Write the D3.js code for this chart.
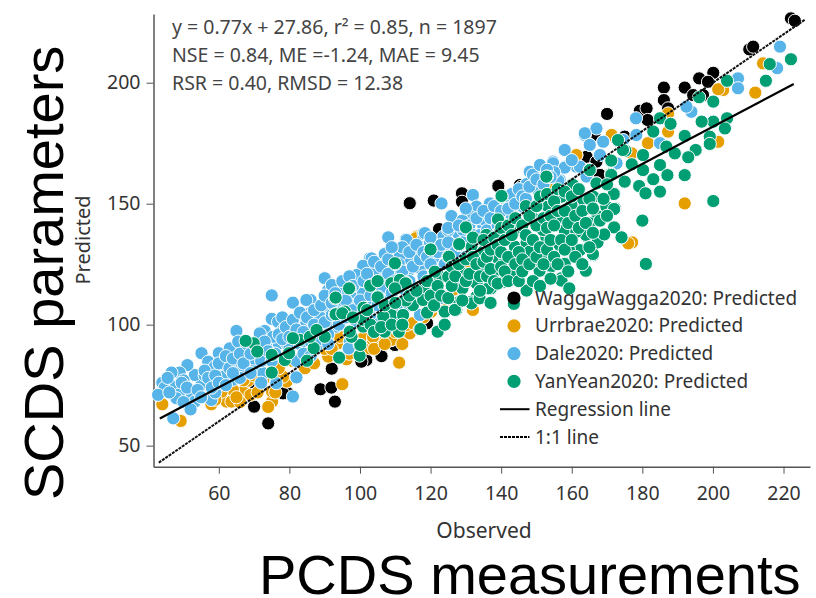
<!DOCTYPE html>
<html>
<head>
<meta charset="utf-8">
<script src="https://cdn.jsdelivr.net/npm/d3@7"></script>
<style>
  html, body { margin: 0; padding: 0; background: #fff; }
  svg { display: block; }
</style>
</head>
<body>
<div id="chart"></div>
<script>
// values as [observed, predicted]
const wagga = [[74,59.2],[70,66.1],[92.9,68.2],[88.8,73.3],[91.9,74],[92,81.8],[106.1,87],[101.8,85.4],[100.4,84.7],[79.6,71.6],[78.2,71.6],[70.5,74.4],[72,74.4],[109.9,91.6],[118.8,100.3],[83.1,104.7],[122.4,139.1],[114.1,150.2],[120.9,151.3],[128.9,154.3],[128.9,150.8],[139.1,157.3],[143.2,151.2],[122.4,139.5],[119,100.6],[145.3,157.7],[170,187.1],[179.3,188.4],[181.2,189.4],[181.5,184.6],[186.1,198],[186.1,192.8],[192,198],[196.1,201.8],[200.1,204.1],[198.6,200.4],[197.2,194.9],[194.4,194.9],[210.3,213.8],[211.4,214.9],[222.1,226.6],[223.2,225.6],[139.2,157.3],[143.4,151.5],[145.8,157],[164.2,169.4],[167,167.4],[168,161.9],[166.5,177.7],[175,177.7],[152.8,157.7],[187.3,189.4]]

const urrbrae = [[44,67.1],[49.2,60.2],[57.9,67.1],[62.2,68.2],[66.9,72.3],[68.3,76.9],[64,73],[60.8,72.3],[63.6,68.2],[55.1,79.9],[72.6,77.2],[75.1,68.2],[75.1,72.3],[79.2,76.5],[78.2,78.5],[84.4,82],[95,75.4],[111.1,84.3],[91,86.8],[96.2,85.7],[93.8,92.3],[102.8,90.2],[100.9,94.4],[103.7,93.7],[106.1,93.7],[108.9,93.7],[111.3,94.4],[114.1,96.4],[113.2,99.9],[115,100.6],[120.2,105.4],[121.2,108.2],[132,106.1],[116,136.4],[129.7,125.4],[94.3,95],[212,195.9],[202.9,197],[201.5,197.3],[214.2,208],[192,150.1],[177.1,134],[201.5,175.6],[187.3,179.8],[187.3,187.3],[181.6,175],[177,170.8],[171.3,178.4],[161.3,170.1],[148.1,146.7],[145.3,153.6],[155.2,156.3],[137.7,146],[120.7,107.5],[115.8,135.7],[161.3,170.1],[138.2,146],[176,133.6],[108.9,93.7],[103.7,95],
  [59,69],[61,76],[66,68],[67,77],[69,71],[71,72],[73,80],[74,66],[76,72],[77,82],[81,85],[83,86],[87,84],[90,90],[92,90],[97,88],[99,92],[104,90],[107,92],[110,97],[118,103],[124,110],[126,112],[112,92],[65,70],[70,79]]

const dale = [[108,136],[113,135.3],[118,137.8],[117.9,135],[117.4,132.2],[75,112.1],[81,109.1],[86,110.2],[84.8,110.2],[85.8,104.7],[90,119.2],[91,114.3],[92,116.4],[100.9,124],[102.8,127.4],[99,120.5],[107,129.5],[110.8,129.5],[113.2,128.1],[115,126.7],[117,123.3],[116,129.5],[107,119.2],[110.3,124],[65,97.4],[73,97.4],[75,102.4],[76.8,101.2],[80,100.3],[78.2,97.8],[84.8,100.6],[91,106.1],[97.1,110.2],[99,113],[102.8,103.3],[105.6,100.6],[55.1,88.2],[60,88.2],[63.1,90.2],[65.5,93],[57,84.7],[58.9,82.7],[61.7,81.3],[65,84],[68.1,86.5],[66.9,81.3],[71.6,93.7],[73.5,90.9],[77,92.3],[75.4,95],[82,95],[84.4,95],[89.1,97.8],[93.3,99.2],[97.1,93],[96.8,90.2],[82,78.2],[76.3,75.8],[81,70.3],[63.9,77.2],[61.2,78.5],[58.9,75.8],[55.1,75.5],[53.2,79.2],[51.1,83.3],[48.9,80.2],[46.6,80.2],[44,76],[44.7,74],[47.8,74.4],[42.8,71],[48.9,71.2],[52.3,71.6],[48,69.6],[53.2,68.2],[57.9,68.9],[47.1,61.3],[117,104],[122.6,110.9],[70.7,82.7],[72.6,79.9],[68.8,90.9],[71.6,96.4],[79.2,92.3],[87.7,90.9],[104.7,115.7],[100.9,114.3],[94.3,108.8],[88.6,103.3],
  [148.1,163.2],[147.2,158.1],[150,155.9],[158,172.2],[154.7,167.4],[158,165.3],[161.3,165.3],[163.7,178.4],[165.1,174.3],[168.9,175.6],[156.6,159.8],[132,153.6],[123.1,150.1],[125.9,144.9],[133,148.8],[136.8,150.1],[139.1,148.8],[142.9,145.3],[146.2,149],[134.9,141.2],[131.1,144.9],[108,136.1],[113.2,135],[118.4,137.8],[123.6,136.4],[127.8,137.8],[119.8,134.3],[116,128.8],[117,123.3],[113.6,127.4],[103.3,127.4],[100.9,124.3],[107,129.2],[107,119.2],[103.7,119.8],[111.3,128.8],[99,120.5],[100.9,113],[122.6,110.9],[117,104],[131.1,133.6],[124.5,132.2],[120.7,127.4],[126.4,126],[133.9,144],[129.2,139.1],[113.6,121.9],[110.3,121.2],
  [219,214.9],[218.2,206],[207.1,201.8],[207.1,197.7],[178.2,185.3],[193.9,188],[192.5,190.1],[167,181.1],[163.7,179.1],[168.9,175.6],[165.1,174.3],[158,172.2],[154.7,166.7],[158,164.9],[148.1,163.2],[147.2,158.1],[150.2,156],[156.2,159.5],[146.2,148.8],[143,145.3],[139.2,148.8],[135.4,143.3],[178.3,178.4],[174.6,176.3],[185,175],[172.7,166.7],[162.3,165.3],[168,170.1],[164.2,161.2],
  [103.7,115.7],[106.6,113],[96,105],[92,101],[86,98],[80,90],[70,86],[62,85],[56,79],[50,77],[59,72],[66,78],[74,86],[90,108],[95,114],[104,122],[109,125],[121,131],[125,139],[129,143],[136,146],[141,150],[152,161],[155,163],[160,168],
  [45.5,78],[46,72],[49.5,76],[51,74],[50,68],[54,73],[56,81],[57,78],[59,79],[60,84],[62,87],[55,70],[52,65],[58,74],
  [60,76],[63,82],[64,86],[66,88],[67,84],[68,92],[69,88],[70,92],[71,90],[72,85],[73,93],[74,89],[75,85],[76,88],[77,96],[62,75],[64,80],[69,80],[72,76],
  [78,94],[78,103],[79,99],[80,95],[81,102],[82,98],[83,92],[83,105],[84,97],[85,103],[86,93],[87,100],[87,106],[88,96],[89,94],[89,108],[80,87],[82,85],[84,88],[86,87],
  [90,101],[90,112],[91,96],[92,104],[92,109],[93,113],[94,100],[94,105],[95,118],[96,110],[96,103],[97,120],[98,106],[98,116],[99,101],[100,110],[101,118],[101,105],[102,121],[103,112],[103,107],[104,126],[105,118],[105,108],[91,92],
  [106,124],[106,115],[107,110],[108,127],[108,121],[109,113],[110,118],[111,125],[111,108],[112,132],[112,122],[113,114],[114,130],[114,118],[115,124],[116,133],[116,112],[117,127],[118,120],[118,130],[119,116],[119,128],[120,125],[109,132],[110,104],[114,108],
  [120,136],[121,121],[122,130],[122,114],[123,133],[124,125],[125,134],[125,140],[126,122],[127,130],[128,141],[128,118],[129,134],[130,148],[130,128],[131,141],[132,137],[133,144],[134,137],[135,147],[136,139],[137,144],[138,149],[139,141],[140,147],[141,153],[142,148],[143,154],[144,150],[145,156],[146,153],[147,152],[148,157],[149,162],[150,160],[151,166],[152,158],[153,164],[154,161]]

const yanyean = [[222.1,209.7],[216.1,207.7],[215,200.8],[204,200.8],[200.1,192.2],[196.1,194],[204,185.3],[200.1,183.9],[196.8,183.9],[203.4,181.1],[199.1,177.7],[199.1,174.7],[192,178],[195.1,172.2],[193,169.2],[192,161.8],[200.1,151.1],[180,143],[172,140.2],[174.1,136],[181,125.1],[185,185.3],[188,183],[183.1,179.8],[173.1,176],[175.2,171.9],[180.2,170.1],[171.1,167.6],[165.1,164],[177,166.3],[180.2,163.9],[171.1,162.3],[153,161.2],[160.2,158],[167,158.4],[157.1,152.9],[140.1,152.9],[185,166],[186.8,173.6],[189.2,170.8],[187.1,161.8],[183.1,160.1],[175,159.1],[179.1,157.3],[172,154.3],[180.9,154.3],[185,155],[166.1,152.9],[172.2,148.1],[169.8,148.8],[162.3,151.5],[160.2,148.8],[153.8,147.4],[162,144],[165.1,142.2],[157.1,143],[164,136.7],[168.9,137.1],[167.2,134.3],[159.3,131.1],[166.1,128.8],[162.3,130.8],[158,125.4],[154,124],[164,122.3],[151,122.3],[152.8,136.1],[156.2,133.6],[147.2,134],[143.9,132.2],[139.2,127.4],[135.8,122.6],[144.2,121.2],[148.1,130.9],[144.8,139.1],[139.2,143.3],[149.5,143.3],[157.1,119.2],
  [140.1,153.2],[130,140.1],[139.1,143.5],[120,131.1],[128.1,132.9],[125,128.1],[135.4,130.2],[139.1,127.4],[143.9,132.2],[147.2,133.9],[152.8,136.1],[157.1,143],[162,144.2],[147.2,114.1],[141,117.8],[137.1,115],[133,117.1],[129.2,115.3],[127.8,109.5],[124,105.1],[122.1,97.1],[116.9,98.1],[111,97.4],[107,97.1],[108.9,104.4],[115,108.4],[118.1,115],[113,117.4],[110,125.1],[103,116.3],[105.1,111.6],[97.1,115],[92.9,110.9],[92.9,104.3],[95.7,105.4],[100.9,99.2],[97.1,96.4],[99.9,91.6],[134.1,124.2],[129,121.2],[125.3,120.1],[121.7,121.2],[143.9,121.2],[150.9,122.3],[154.3,124.2],[158,125.1],[157.1,118.2],[159.3,115],[164,122.3],[166,129.2],[159.2,131.1],[167.3,134],[172,140.2],[174.1,136.1],[169.2,137.3],[164,137.1],[172,147.8],[167.3,144.9],[165.1,141.9],[156.6,132.9],[149.1,126.3],[133,111.6],[131.6,109.5],[127.3,106.1],[117.9,110.2],[108.9,117.1],[111.3,118.5],[145.3,139.1],[151.9,139.1],[135.8,137.1],[131.6,132.2],[149.1,143.9],[153.3,148.8],[157.1,152.9],[159.9,149.5],[166.1,152.9],[171.9,154],[171.2,167.8],[171.2,161.9],[167,158.4],[160.4,157.7],[165.1,163.9],[152.8,161.2],[174.5,172.2],[173.1,176.3],[139.6,138.5],[148.1,130.2],[152.4,128.1],[138.7,122.6],[143.4,126],[141,128.1],[158,139.1],[161.3,138.4],[122.6,119.8],
  [75,80.2],[85,85.1],[94.1,86.4],[99.9,87.2],[78.7,85.4],[75,87.5],[86.9,90.3],[79.9,88.2],[82.9,93.7],[69.9,92.3],[67.6,93.3],[70.9,88.9],[90,95],[85.8,95],[87.7,97.8],[81,94.4],[100.1,91.6],[97.6,95],[97.1,97.1],[93.1,104.3],[93.1,111.2],[96.9,115],[102.9,116.1],[105,111.3],[109.9,125.4],[112.9,117.1],[109.9,115],[108.9,104],[107,97.1],[111,97.1],[117.1,98.2],[122,97.1],[124,105.4],[128,109.3],[115,108.1],[118,115],[117.9,110.2],[120,131.1],[125.2,128.1],[128.1,133.3],[130,140.2],[133.9,124],[129,115],[125,119.8],[121.2,121.9],[133,117.1],[134.9,130.2],[136.3,115],[95,104.7],[100.9,102],[106.6,103.3],[112.2,104],[131.6,108.8],[133.9,110.9],[126.9,106.1],
  [98,103],[101,107],[103,100],[104,97],[106,99],[109,100],[112,100],[113,110],[114,112],[116,114],[119,105],[119,118],[120,112],[121,108],[122,116],[123,112],[124,100],[125,111],[126,116],[126,124],[127,120],[102,106],[105,118],[107,108],[110,109],
  [128,125],[129,110],[130,118],[130,127],[131,121],[132,128],[132,136],[133,125],[134,114],[134,120],[135,126],[135,135],[136,120],[136,128],[137,131],[137,123],[138,118],[138,136],[139,133],[139,117],[140,124],[140,130],[140,140],[141,122],[141,135],[142,128],[142,118],[142,141],[143,137],[144,125],[144,144],[145,118],[145,130],[146,127],[146,141],[146,122],[147,137],[147,149],[148,125],[148,145],[149,118],[149,135],[150,128],[150,141],[150,149],[151,116],[151,132],[151,153],[152,125],[152,144],
  [153,131],[153,140],[153,154],[154,119],[154,135],[154,145],[155,128],[155,141],[155,151],[156,125],[156,147],[156,156],[157,135],[158,131],[158,147],[158,155],[159,122],[159,142],[160,135],[160,153],[161,128],[161,145],[162,140],[162,156],[163,125],[163,147],[164,142],[165,132],[165,152],[166,138],[166,148],[168,143],[169,152],[170,158],[170,145],
  [143.6,108.6],[137,109]]

const xTicks = [60, 80, 100, 120, 140, 160, 180, 200, 220]
const yTicks = [50, 100, 150, 200]

// fit lines, ends
const regressionLine = [[43.3,61.2],[222.9,199.5]]
const identityLine = [[43,43],[226,226]]

const statLines = ["y = 0.77x + 27.86, r² = 0.85, n = 1897", "NSE = 0.84, ME =-1.24, MAE = 9.45", "RSR = 0.40, RMSD = 12.38"]
const pointNames = ["WaggaWagga2020: Predicted", "Urrbrae2020: Predicted", "Dale2020: Predicted", "YanYean2020: Predicted"]
const pointColors = ["#000000", "#e69f00", "#56b4e9", "#009e73"]
const lineNames = ["Regression line", "1:1 line"]

const font = "'Noto Sans', 'Open Sans', sans-serif"

const width = 816
const height = 598

const svg = d3.select("#chart").append("svg")
  .attr("width", width)
  .attr("height", height)
  .attr("font-family", font)

const x = d3.scaleLinear().domain([41.5, 227.5]).range([153.5, 810])
const y = d3.scaleLinear().domain([41.3, 228.4]).range([466.7, 14])

// axes
const xAxis = svg.append("g")
  .attr("transform", `translate(0,${y.range()[0]})`)
  .call(d3.axisBottom(x).tickValues(xTicks).tickSize(7).tickSizeOuter(0).tickPadding(12))
const yAxis = svg.append("g")
  .attr("transform", `translate(${x.range()[0]},0)`)
  .call(d3.axisLeft(y).tickValues(yTicks).tickSize(7).tickSizeOuter(0).tickPadding(6))

for (const a of [xAxis, yAxis]) {
  a.attr("font-family", font)
  a.select(".domain").attr("stroke", "#555").attr("stroke-width", 1.5)
  a.selectAll(".tick line").attr("stroke", "#555").attr("stroke-width", 1)
  a.selectAll(".tick text").attr("fill", "#333").style("font-size", "19.5px")
}

// points, black first and green on top
const groups = [wagga, urrbrae, dale, yanyean]
groups.forEach((pts, i) => {
  svg.append("g").selectAll("circle")
    .data(pts).join("circle")
    .attr("cx", d => x(d[0]))
    .attr("cy", d => y(d[1]))
    .attr("r", 6.6)
    .attr("fill", pointColors[i])
    .attr("stroke", "#fff")
    .attr("stroke-width", 1)
})

const line = d3.line().x(d => x(d[0])).y(d => y(d[1]))

svg.append("path").attr("d", line(identityLine))
  .attr("fill", "none").attr("stroke", "#111").attr("stroke-width", 2).attr("stroke-dasharray", "3,1")
svg.append("path").attr("d", line(regressionLine))
  .attr("fill", "none").attr("stroke", "#000").attr("stroke-width", 2.2)

// stats text
svg.append("g").selectAll("text")
  .data(statLines).join("text")
  .attr("x", 172)
  .attr("y", (d, i) => 34 + i * 28)
  .attr("fill", "#444")
  .style("font-size", "19.5px")
  .text(d => d)

// legend
const legend = svg.append("g")
const rowY = i => 298 + i * 27.8

legend.selectAll("circle")
  .data(pointNames).join("circle")
  .attr("cx", 514)
  .attr("cy", (d, i) => rowY(i))
  .attr("r", 6.6)
  .attr("fill", (d, i) => pointColors[i])

legend.selectAll("line")
  .data(lineNames).join("line")
  .attr("x1", 500)
  .attr("x2", 529.5)
  .attr("y1", (d, i) => rowY(i + 4))
  .attr("y2", (d, i) => rowY(i + 4))
  .attr("stroke", "#000")
  .attr("stroke-width", 2)
  .attr("stroke-dasharray", d => d === lineNames[0] ? null : "3,1")

legend.selectAll("text")
  .data(pointNames.concat(lineNames)).join("text")
  .attr("x", 535)
  .attr("y", (d, i) => rowY(i) + 6.5)
  .attr("fill", "#333")
  .style("font-size", "19px")
  .text(d => d)

// axis titles
svg.append("text")
  .attr("x", 484).attr("y", 538)
  .attr("text-anchor", "middle")
  .attr("fill", "#333")
  .style("font-size", "21px")
  .text("Observed")

svg.append("text")
  .attr("transform", "translate(90,240) rotate(-90)")
  .attr("text-anchor", "middle")
  .attr("fill", "#333")
  .style("font-size", "20px")
  .text("Predicted")

// big labels added over the chart
svg.append("text")
  .attr("x", 259).attr("y", 594)
  .attr("font-family", "'Liberation Sans', Arial, sans-serif")
  .attr("fill", "#000")
  .style("font-size", "56px")
  .text("PCDS measurements")

svg.append("text")
  .attr("transform", "translate(63,500) rotate(-90)")
  .attr("font-family", "'Liberation Sans', Arial, sans-serif")
  .attr("fill", "#000")
  .style("font-size", "56px")
  .text("SCDS parameters")
</script>
</body>
</html>
